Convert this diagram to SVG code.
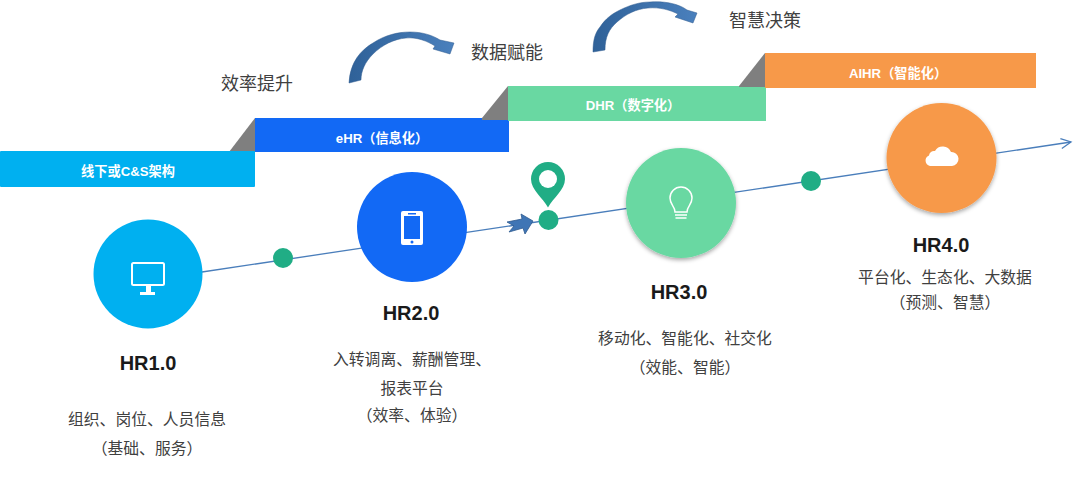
<svg xmlns="http://www.w3.org/2000/svg" width="1080" height="478" viewBox="0 0 1080 478">
<defs>
<style>
text{font-family:"Liberation Sans","Noto Sans CJK SC",sans-serif;text-anchor:middle}
.bar{font-size:13.200px;font-weight:700;fill:#fff}
.hr{font-size:20px;font-weight:700;fill:#1a1a1a}
.d{font-size:15.800px;fill:#404040}
.t{font-size:18px;fill:#404040}
.fold{fill:#7f7f7f}
.dot{fill:#20ad85}
.ic{fill:none;stroke:#fff;stroke-width:2}
.sw{fill:#3f75b5;stroke:#2f5a8f;stroke-width:.8}
</style>
<filter id="sh" x="-20%" y="-20%" width="140%" height="140%"><feDropShadow dx="0" dy="2" stdDeviation="2" flood-color="#000" flood-opacity=".35"/></filter>
<linearGradient id="sg" x1="0" y1="0" x2="1" y2="0"><stop offset="0" stop-color="#2f6198"/><stop offset="1" stop-color="#4a80bd"/></linearGradient>
<marker id="open" markerWidth="14" markerHeight="14" refX="11" refY="6" orient="auto" markerUnits="userSpaceOnUse"><path d="M1 1L11 6L1 11" fill="none" stroke="#4a7ebb" stroke-width="1.300"/></marker>
</defs>
<rect width="1080" height="478" fill="#fff"/>
<g id="connectors">
<line x1="202" y1="272" x2="1071" y2="142" stroke="#4a7ebb" stroke-width="1.300" marker-end="url(#open)"/>
<path class="sw" d="M507 222L522 219L521 214L533 221L525 234L523 228L509 232L514 226Z"/>
<path d="M349 83C350 62 361 50 373 43C385 35 398 32 410 32C422 32 432 35 440 40L454 43L450 54L433 49L435 46C427 41 417 37 406 38C394 39 382 45 373 54C365 62 361 71 361 80Z" fill="url(#sg)" stroke="#2f5a8f" stroke-width=".5"/>
<path d="M593 52C593 40 595 33 600 27C606 18 612 14 620 10C630 5 640 2 650 2C662 1 678 3 687 10L697 13L693 23L675 17L678 14C670 10 660 7 648 8C636 9 626 14 617 22C609 29 605 37 605 50Z" fill="url(#sg)" stroke="#2f5a8f" stroke-width=".5"/>
</g>
<g id="bar1"><path class="fold" d="M229 152L255 118V152Z"/><rect x="0" y="151" width="255" height="36" fill="#00b0f0" rx="1"/><text class="bar" x="128" y="176">线下或C&amp;S架构</text></g>
<g id="bar2"><rect x="255" y="118" width="254" height="34" fill="#1269f5"/><path class="fold" d="M482 118L508 86V120H482Z"/><text class="bar" x="382" y="143">eHR（信息化）</text></g>
<g id="bar3"><rect x="508" y="86" width="258" height="35" fill="#69d8a2"/><path class="fold" d="M739 86L765 53V87H739Z"/><text class="bar" x="633" y="110">DHR（数字化）</text></g>
<g id="bar4"><rect x="765" y="53" width="271" height="35" fill="#f79949"/><text class="bar" x="898" y="78">AIHR（智能化）</text></g>
<text class="t" x="257" y="90">效率提升</text>
<text class="t" x="507" y="59">数据赋能</text>
<text class="t" x="765" y="27">智慧决策</text>
<g id="m1"><circle cx="283" cy="258" r="10" class="dot"/></g>
<g id="m2"><circle cx="548.500" cy="220" r="10" class="dot"/><path class="dot" d="M548 207.500C543 198 531 190 531 179A17 17 0 0 1 565 179C565 190 553 198 548 207.500Z"/><circle cx="548" cy="179" r="9" fill="#fff"/></g>
<g id="m3"><circle cx="811" cy="181" r="10" class="dot"/></g>
<g id="hr1"><circle cx="148" cy="274" r="54.500" fill="#00b0f0"/>
<rect x="132" y="263" width="32" height="22" rx="1.500" class="ic"/><path d="M146 286H151V292H155V295H140V292H146Z" fill="#fff"/>
<text class="hr" x="148" y="370">HR1.0</text><text class="d" x="147" y="425">组织、岗位、人员信息</text><text class="d" x="147" y="454">（基础、服务）</text></g>
<g id="hr2"><circle cx="412" cy="227" r="55" fill="#1269f5"/>
<rect x="401" y="211" width="22" height="34" rx="2" fill="#fff"/><rect x="404" y="216" width="16" height="23" fill="#1269f5"/><rect x="408" y="213" width="8" height="1.500" fill="#1269f5"/><circle cx="412" cy="242" r="1.500" fill="#1269f5"/>
<text class="hr" x="411" y="320">HR2.0</text><text class="d" x="412" y="365">入转调离、薪酬管理、</text><text class="d" x="412" y="394">报表平台</text><text class="d" x="412" y="421">（效率、体验）</text></g>
<g id="hr3"><circle cx="681" cy="203" r="55" fill="#69d8a2" filter="url(#sh)"/>
<path class="ic" style="stroke-width:1.500px" d="M675 212C675 206 670 205 670 198A11 11 0 0 1 692 198C692 205 687 206 687 212Z"/><path class="ic" style="stroke-width:1.300px" d="M675 215H687M675.500 218H686.500"/>
<text class="hr" x="679" y="299">HR3.0</text><text class="d" x="685" y="344">移动化、智能化、社交化</text><text class="d" x="685" y="373">（效能、智能）</text></g>
<g id="hr4"><circle cx="941.500" cy="158" r="55" fill="#f79949" filter="url(#sh)"/>
<path d="M930 166A5.500 5.500 0 0 1 929 155.500A5 5 0 0 1 935 151A9 9 0 0 1 951 152A7 7 0 0 1 952 166Z" fill="#fff"/>
<text class="hr" x="941" y="252">HR4.0</text><text class="d" x="945" y="283">平台化、生态化、大数据</text><text class="d" x="945" y="308">（预测、智慧）</text></g>
</svg>
